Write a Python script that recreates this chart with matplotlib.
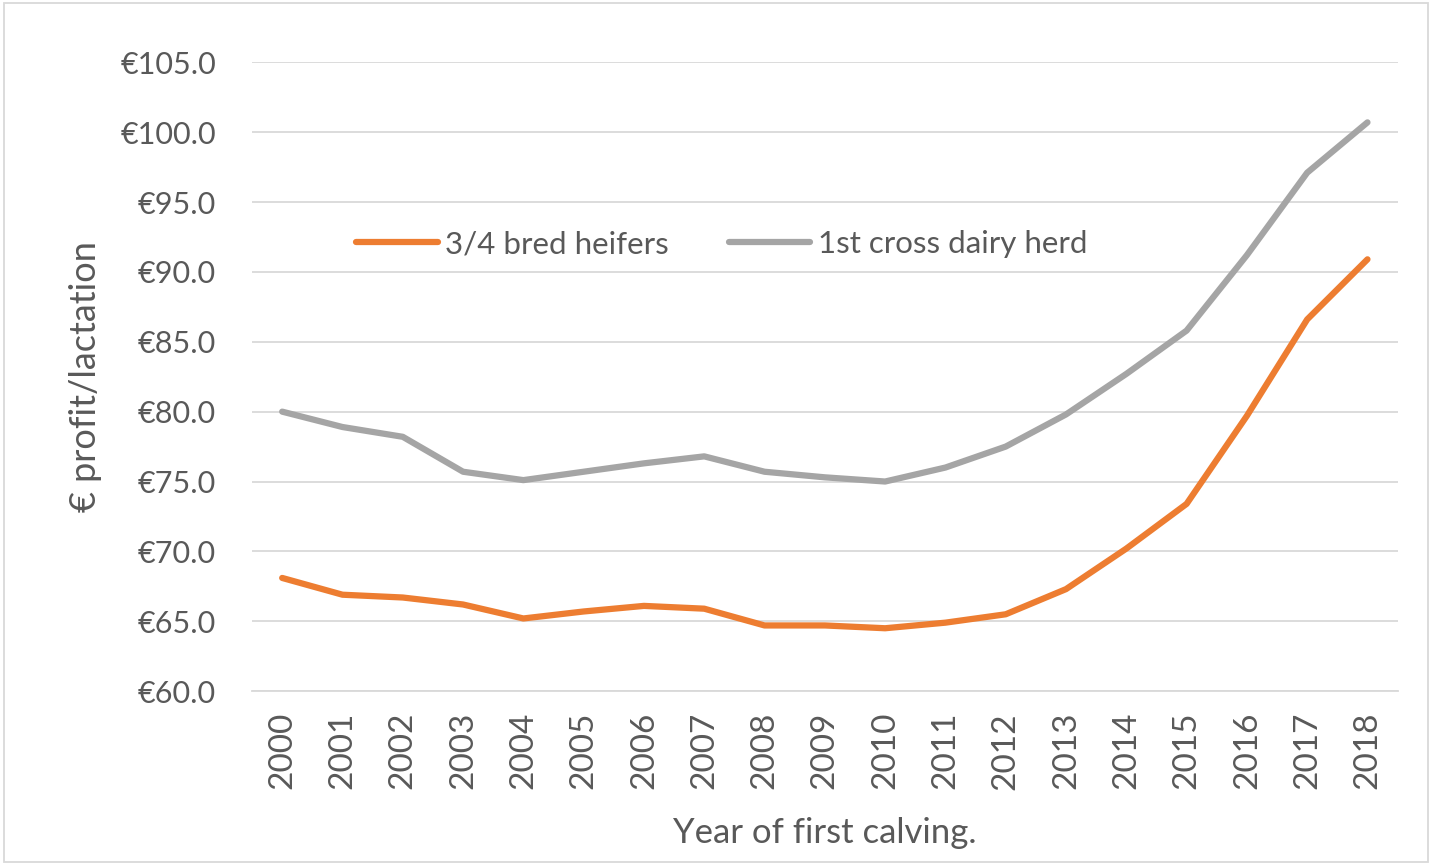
import matplotlib.pyplot as plt
from matplotlib.ticker import FuncFormatter

years = list(range(2000, 2019))
bred_heifers = [68.1, 66.9, 66.7, 66.2, 65.2, 65.7, 66.1, 65.9, 64.7, 64.7, 64.5,
                64.9, 65.5, 67.3, 70.2, 73.4, 79.7, 86.6, 90.9]
cross_dairy = [80.0, 78.9, 78.2, 75.7, 75.1, 75.7, 76.3, 76.8, 75.7, 75.3, 75.0,
               76.0, 77.5, 79.8, 82.7, 85.8, 91.2, 97.1, 100.7]

plt.rcParams['font.family'] = ['Lato', 'DejaVu Sans']
txt = '#595959'

fig = plt.figure(figsize=(14.32, 8.65), dpi=100)
ax = fig.add_axes([0.176, 0.201, 0.8, 0.727])

ax.plot(years, bred_heifers, color='#ED7D31', lw=4.5, label='3/4 bred heifers', solid_capstyle='round')
ax.plot(years, cross_dairy, color='#A5A5A5', lw=4.5, label='1st cross dairy herd', solid_capstyle='round')

ax.set_ylim(60, 105)
ax.set_yticks(range(60, 106, 5))
ax.yaxis.set_major_formatter(FuncFormatter(lambda v, p: f'€{v:.1f}'))
ax.set_xlim(1999.5, 2018.5)
ax.set_xticks(years)
ax.set_xticklabels([str(y) for y in years], rotation=90)
ax.grid(axis='y', color='#D9D9D9', lw=1.3)
ax.set_axisbelow(True)
for s in ['top', 'right', 'left']:
    ax.spines[s].set_visible(False)
ax.spines['bottom'].set_color('#D9D9D9')
ax.spines['bottom'].set_linewidth(1.3)
ax.tick_params(length=0, colors=txt)
ax.tick_params(axis='y', labelsize=22, pad=26)
ax.tick_params(axis='x', labelsize=24, pad=15)

ax.set_xlabel('Year of first calving.', fontsize=25, color=txt, labelpad=20)
ax.set_ylabel('€ profit/lactation', fontsize=26, color=txt, labelpad=13)

ax.legend(loc='center', bbox_to_anchor=(0.41, 0.711), ncol=2, frameon=False,
          fontsize=22.5, labelcolor=txt, handlelength=2.6, handletextpad=0.25, columnspacing=1.9)

border = plt.Rectangle((0.003, 0.003), 0.994, 0.994, transform=fig.transFigure,
                       fill=False, edgecolor='#D9D9D9', lw=1.3)
fig.patches.append(border)

fig.savefig('out.png', dpi=100)
